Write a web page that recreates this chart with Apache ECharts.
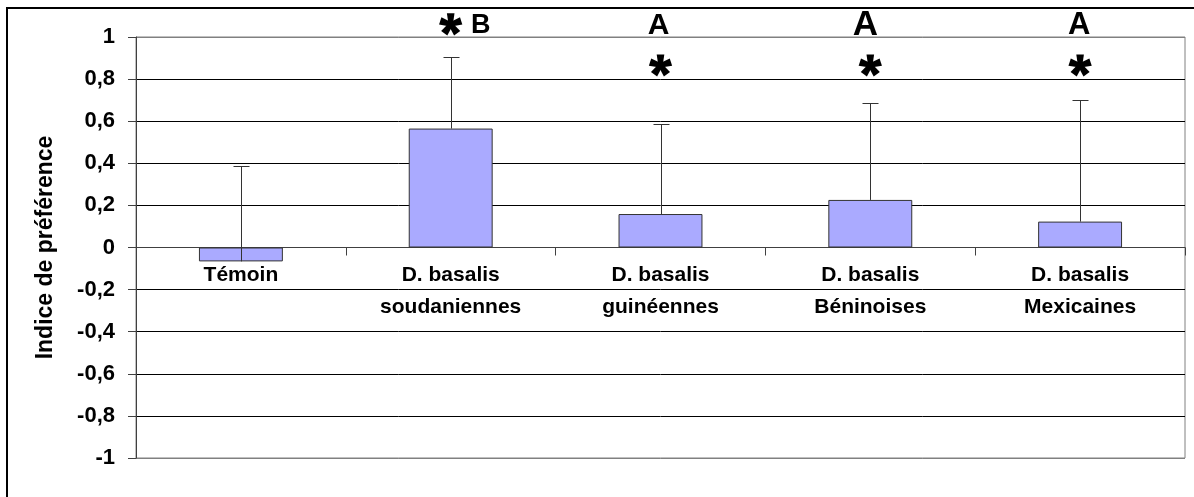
<!DOCTYPE html>
<html>
<head>
<meta charset="utf-8">
<script src="https://cdn.jsdelivr.net/npm/echarts@6/dist/echarts.min.js"></script>
<style>
  html, body { margin: 0; padding: 0; background: #fff; }
  #chart { width: 1194px; height: 497px; }
</style>
</head>
<body>
<div id="chart"></div>
<script>
// catégories et valeurs
var categories = ['Témoin', 'D. basalis\nsoudaniennes', 'D. basalis\nguinéennes', 'D. basalis\nBéninoises', 'D. basalis\nMexicaines'];
var means = [-0.066, 0.565, 0.159, 0.226, 0.123];
var errTops = [0.388, 0.906, 0.585, 0.688, 0.700];
var yTicks = [-1, -0.8, -0.6, -0.4, -0.2, 0, 0.2, 0.4, 0.6, 0.8, 1];
// lettres de signification et astérisques
var letters = ['', 'B', 'A', 'A', 'A'];
var letterLevel = [null, 1.06, 1.06, 1.06, 1.06];
var starLevel = [null, 1.06, 0.865, 0.865, 0.865];

// réglages d'affichage des lettres (taille, décalage)
var letterSize = [0, 27, 30, 35, 31];
var letterDx = [0, 30, -2, -5, -1];
var font = 'Liberation Sans, Arial, sans-serif';

var chart = echarts.init(document.getElementById('chart'), null, { renderer: 'canvas' });

function star(cx, cy) {
  var arms = [];
  for (var k = 0; k < 5; k++) {
    var a = -Math.PI / 2 + k * 2 * Math.PI / 5;
    var ux = Math.cos(a), uy = Math.sin(a), nx = -uy, ny = ux;
    var w0 = 2.2, w1 = 3.8, r = 11;
    arms.push({
      type: 'polygon',
      shape: { points: [
        [cx + nx * w0, cy + ny * w0],
        [cx + ux * r + nx * w1, cy + uy * r + ny * w1],
        [cx + ux * r - nx * w1, cy + uy * r - ny * w1],
        [cx - nx * w0, cy - ny * w0]
      ] },
      style: { fill: '#000' }
    });
  }
  arms.push({ type: 'circle', shape: { cx: cx, cy: cy, r: 4 }, style: { fill: '#000' } });
  return arms;
}

var option = {
  animation: false,
  backgroundColor: '#fff',
  textStyle: { fontFamily: font },
  graphic: [{
    type: 'rect',
    shape: { x: 7, y: 8, width: 1200, height: 500 },
    style: { fill: 'none', stroke: '#000', lineWidth: 2 },
    silent: true
  }],
  grid: {
    left: 136, right: 9, top: 37, bottom: 39,
    containLabel: false,
    outerBoundsMode: 'none',
    show: true, borderColor: '#808080', borderWidth: 1
  },
  xAxis: {
    type: 'category',
    data: categories,
    axisLine: { onZero: true, lineStyle: { color: '#404040', width: 1 } },
    axisTick: { show: true, length: 8, lineStyle: { color: '#404040' } },
    axisLabel: { show: false },
    splitLine: { show: false }
  },
  yAxis: {
    type: 'value',
    min: -1, max: 1, interval: 0.2,
    name: 'Indice de préférence',
    nameLocation: 'middle',
    nameGap: 79,
    nameTextStyle: { color: '#000', fontWeight: 'bold', fontSize: 23, fontFamily: font },
    axisLine: { show: true, lineStyle: { color: '#404040', width: 1 } },
    axisTick: { show: true, length: 8, lineStyle: { color: '#404040' } },
    axisLabel: {
      color: '#000', fontWeight: 'bold', fontSize: 22, margin: 21, fontFamily: font,
      formatter: function (v) { return String(Math.round(v * 10) / 10).replace('.', ','); }
    },
    splitLine: {
      show: true,
      lineStyle: {
        color: yTicks.map(function (t, i) { return (i === 0 || i === yTicks.length - 1) ? '#808080' : '#000'; }),
        width: 1
      }
    }
  },
  series: [
    {
      name: 'Indice',
      type: 'bar',
      data: means,
      barWidth: '40%',
      itemStyle: { color: '#aaaaff', borderColor: '#333', borderWidth: 1 },
      z: 2
    },
    {
      name: 'Erreur',
      type: 'custom',
      data: means.map(function (m, i) { return [i, m, errTops[i]]; }),
      renderItem: function (params, api) {
        var p0 = api.coord([api.value(0), api.value(1)]);
        var p1 = api.coord([api.value(0), api.value(2)]);
        var x = Math.round(p0[0]) + 0.5, y1 = Math.round(p1[1]) + 0.5;
        return {
          type: 'group',
          children: [
            { type: 'line', shape: { x1: x, y1: p0[1], x2: x, y2: y1 }, style: { stroke: '#333', lineWidth: 1 } },
            { type: 'line', shape: { x1: x - 8, y1: y1, x2: x + 8, y2: y1 }, style: { stroke: '#333', lineWidth: 1 } }
          ]
        };
      },
      z: 3
    },
    {
      // étiquettes des catégories, accrochées à l'axe y = 0
      name: 'Etiquettes',
      type: 'custom',
      clip: false,
      data: categories.map(function (c, i) { return [i, 0]; }),
      renderItem: function (params, api) {
        var p = api.coord([api.value(0), api.value(1)]);
        return {
          type: 'text',
          style: {
            x: p[0], y: p[1] + 12,
            text: categories[params.dataIndex],
            font: 'bold 21px ' + font,
            lineHeight: 32,
            fill: '#000', align: 'center', verticalAlign: 'top'
          }
        };
      },
      z: 4
    },
    {
      name: 'Annotations',
      type: 'custom',
      clip: false,
      data: categories.map(function (c, i) { return [i, letterLevel[i], starLevel[i]]; }),
      renderItem: function (params, api) {
        var i = params.dataIndex;
        if (!letters[i]) return null;
        var pl = api.coord([api.value(0), api.value(1)]);
        var ps = api.coord([api.value(0), api.value(2)]);
        var children = star(ps[0], ps[1]);
        children.push({
          type: 'text',
          style: {
            x: pl[0] + letterDx[i], y: pl[1] + 1,
            text: letters[i],
            font: 'bold ' + letterSize[i] + 'px ' + font,
            fill: '#000', align: 'center', verticalAlign: 'middle'
          }
        });
        return { type: 'group', children: children };
      },
      z: 5
    }
  ]
};

chart.setOption(option);
</script>
</body>
</html>
